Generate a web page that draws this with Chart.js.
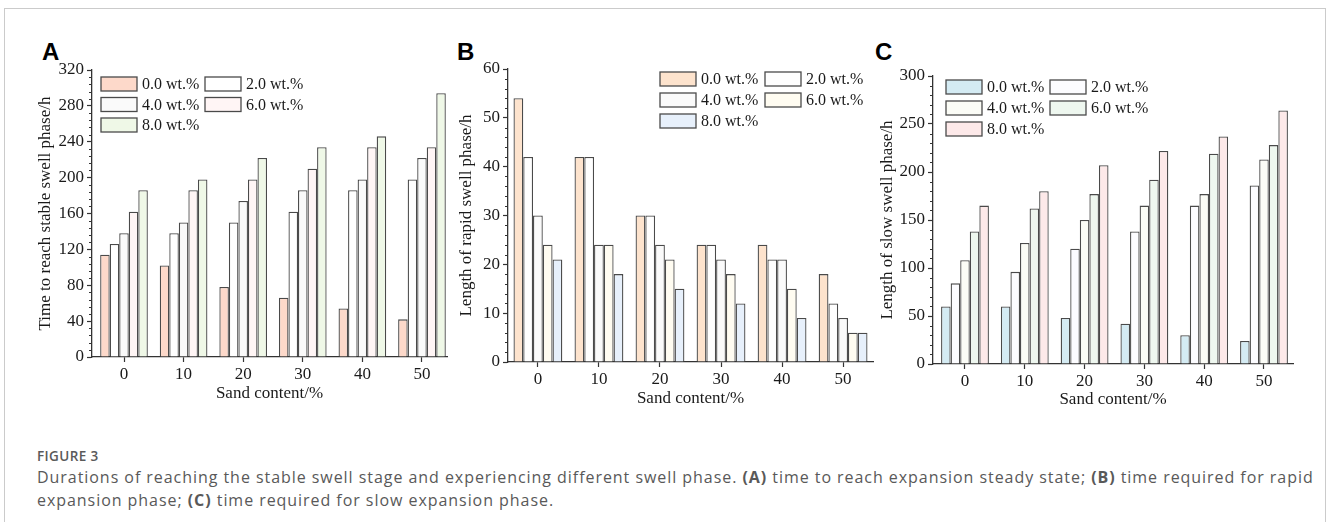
<!DOCTYPE html>
<html>
<head>
<meta charset="utf-8">
<script src="https://cdn.jsdelivr.net/npm/chart.js@4.4.1/dist/chart.umd.min.js"></script>
<style>
    html, body { margin: 0; padding: 0; background: #fff; }
    body { width: 1328px; height: 522px; position: relative; overflow: hidden; }
    .frame { position: absolute; left: 4px; top: 8px; width: 1322px; height: 600px; border: 1px solid #cbcbcb; box-sizing: border-box; }
    .panel { position: absolute; top: 30px; height: 380px; }
    .tag { position: absolute; top: 40px; font: bold 24px "Liberation Sans", Arial, sans-serif; line-height: 24px; color: #000; }
    .caption { position: absolute; left: 37px; top: 446px; font-family: "Open Sans", "Noto Sans", sans-serif; color: #595959; white-space: nowrap; }
    .caption .fig { font-size: 13.5px; font-weight: 600; line-height: 20px; letter-spacing: 0.4px; color: #5a5a5a; }
    .caption .txt { font-size: 16px; line-height: 23px; letter-spacing: 0.95px; }
    .caption b { font-weight: 700; }
</style>
</head>
<body>
<div class="frame"></div>

<div class="tag" style="left:42px">A</div>
<div class="tag" style="left:457px">B</div>
<div class="tag" style="left:875px">C</div>

<canvas id="chartA" class="panel" style="left:20px" width="440" height="380"></canvas>
<canvas id="chartB" class="panel" style="left:445px" width="440" height="380"></canvas>
<canvas id="chartC" class="panel" style="left:865px" width="450" height="380"></canvas>

<div class="caption">
    <div class="fig">FIGURE 3</div>
    <div class="txt">Durations of reaching the stable swell stage and experiencing different swell phase. <b>(A)</b> time to reach expansion steady state; <b>(B)</b> time required for rapid<br>expansion phase; <b>(C)</b> time required for slow expansion phase.</div>
</div>

<script>
// Sand content (%) on the x axis, one group of bars per value
const sandContent = [0, 10, 20, 30, 40, 50];
const seriesLabels = ['0.0 wt.%', '2.0 wt.%', '4.0 wt.%', '6.0 wt.%', '8.0 wt.%'];

// (A) time to reach the stable swell phase, h
const stable00 = [114, 102, 78, 66, 54, 42];
const stable20 = [126, 138, 150, 162, 186, 198];
const stable40 = [138, 150, 174, 186, 198, 222];
const stable60 = [162, 186, 198, 210, 234, 234];
const stable80 = [186, 198, 222, 234, 246, 294];

// (B) length of the rapid swell phase, h
const rapid00 = [54, 42, 30, 24, 24, 18];
const rapid20 = [42, 42, 30, 24, 21, 12];
const rapid40 = [30, 24, 24, 21, 21, 9];
const rapid60 = [24, 24, 21, 18, 15, 6];
const rapid80 = [21, 18, 15, 12, 9, 6];

// (C) length of the slow swell phase, h
const slow00 = [60, 60, 48, 42, 30, 24];
const slow20 = [84, 96, 120, 138, 165, 186];
const slow40 = [108, 126, 150, 165, 177, 213];
const slow60 = [138, 162, 177, 192, 219, 228];
const slow80 = [165, 180, 207, 222, 237, 264];

// y tick labels
const ticksA = [0, 40, 80, 120, 160, 200, 240, 280, 320];
const ticksB = [0, 10, 20, 30, 40, 50, 60];
const ticksC = [0, 50, 100, 150, 200, 250, 300];

// fill colours per series
const fillsA = ['#fdd9ca', '#ffffff', '#fafafa', '#fff5f5', '#eff8e7'];
const fillsB = ['#fde3cd', '#fefefe', '#fafafa', '#fffcf1', '#e7f0fb'];
const fillsC = ['#d4ebf3', '#fcfcff', '#fbfcf6', '#eef7ef', '#fde9e9'];

const SERIF = '"Liberation Serif", "Times New Roman", serif';
const INK = '#1a1a1a';
const AXIS = '#333';

// minor y ticks and the two-column legend inside the plot
const decorations = {
    id: 'decorations',
    afterDraw(chart, args, opts) {
        const { ctx, chartArea } = chart;
        const y = chart.scales.y;
        const major = opts.ticks[1] - opts.ticks[0];
        const minor = major / 5;
        ctx.save();
        ctx.strokeStyle = AXIS;
        ctx.lineWidth = 1;
        ctx.beginPath();
        for (let k = 1; k * minor < y.max; k++) {
            if (k % 5 === 0) continue;
            const py = Math.round(y.getPixelForValue(k * minor)) + 0.5;
            ctx.moveTo(chartArea.left, py);
            ctx.lineTo(chartArea.left - 3, py);
        }
        ctx.stroke();

        const lg = opts.legend;
        ctx.font = '16px ' + SERIF;
        ctx.textBaseline = 'middle';
        chart.data.datasets.forEach((ds, i) => {
            const col = i % 2, row = Math.floor(i / 2);
            const bx = chartArea.left + lg.x + col * lg.colGap;
            const cy = chartArea.top + lg.y + row * lg.rowGap;
            ctx.fillStyle = ds.backgroundColor;
            ctx.fillRect(bx, cy - 7, 36, 14);
            ctx.strokeStyle = '#4a4a4a';
            ctx.lineWidth = 1.3;
            ctx.strokeRect(bx, cy - 7, 36, 14);
            ctx.fillStyle = INK;
            ctx.fillText(ds.label, bx + 41, cy + 1);
        });
        ctx.restore();
    }
};

function makeChart(p) {
    const font = { family: SERIF, size: 17 };
    new Chart(document.getElementById(p.id), {
        type: 'bar',
        data: {
            labels: sandContent,
            datasets: p.series.map((vals, i) => ({
                label: seriesLabels[i],
                data: vals,
                backgroundColor: p.fills[i],
                borderColor: '#4a4a4a',
                borderWidth: 1.3,
                categoryPercentage: 0.8,
                barPercentage: 1
            }))
        },
        options: {
            responsive: false,
            animation: false,
            devicePixelRatio: 1,
            events: [],
            layout: { padding: { top: p.padTop, right: p.padRight, bottom: 0, left: 0 } },
            plugins: {
                legend: { display: false },
                tooltip: { enabled: false },
                decorations: { ticks: p.yTicks, legend: p.legend }
            },
            scales: {
                x: {
                    type: 'linear',
                    offset: false,
                    min: p.xRange[0],
                    max: p.xRange[1],
                    afterBuildTicks: s => { s.ticks = sandContent.map(v => ({ value: v })); },
                    afterFit: s => { s.height = p.xHeight; },
                    grid: { offset: false, drawOnChartArea: false, tickLength: 5, tickColor: AXIS, tickWidth: 1.2 },
                    border: { color: AXIS, width: 1.3 },
                    ticks: { font, color: INK, padding: 2, maxRotation: 0 },
                    title: { display: true, text: 'Sand content/%', font, color: INK, padding: { top: 0, bottom: p.xTitlePad } }
                },
                y: {
                    min: p.yTicks[0],
                    max: p.yTicks[p.yTicks.length - 1],
                    afterBuildTicks: s => { s.ticks = p.yTicks.map(v => ({ value: v })); },
                    afterFit: s => { s.width = p.yWidth; },
                    grid: { drawOnChartArea: false, tickLength: 5, tickColor: AXIS, tickWidth: 1.2 },
                    border: { color: AXIS, width: 1.3 },
                    ticks: { font, color: INK, padding: 3 },
                    title: { display: true, text: p.yTitle, font, color: INK, padding: { top: p.yTitlePad, bottom: 0 } }
                }
            }
        },
        plugins: [decorations]
    });
}

makeChart({
    id: 'chartA', yTitle: 'Time to reach stable swell phase/h',
    series: [stable00, stable20, stable40, stable60, stable80], fills: fillsA, yTicks: ticksA,
    xRange: [-5.37, 54.2], padTop: 40, padRight: 13, yWidth: 72, xHeight: 53, xTitlePad: 6, yTitlePad: 15,
    legend: { x: 9, y: 14, colGap: 104, rowGap: 20.5 }
});
makeChart({
    id: 'chartB', yTitle: 'Length of rapid swell phase/h',
    series: [rapid00, rapid20, rapid40, rapid60, rapid80], fills: fillsB, yTicks: ticksB,
    xRange: [-4.9, 54.9], padTop: 39, padRight: 12, yWidth: 63, xHeight: 48, xTitlePad: 1, yTitlePad: 11,
    legend: { x: 152, y: 10, colGap: 105, rowGap: 21 }
});
makeChart({
    id: 'chartC', yTitle: 'Length of slow swell phase/h',
    series: [slow00, slow20, slow40, slow60, slow80], fills: fillsC, yTicks: ticksC,
    xRange: [-5.35, 54.85], padTop: 46, padRight: 22, yWidth: 68, xHeight: 46, xTitlePad: 0, yTitlePad: 12,
    legend: { x: 13, y: 11, colGap: 104, rowGap: 21 }
});
</script>
</body>
</html>
